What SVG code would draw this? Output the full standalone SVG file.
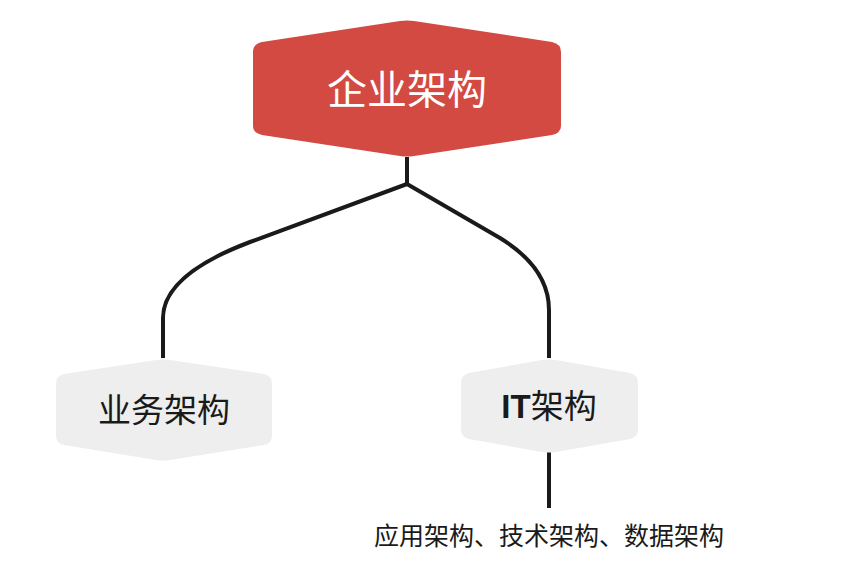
<svg xmlns="http://www.w3.org/2000/svg" width="848" height="588" viewBox="0 0 848 588">
<style>
.c{fill:none;stroke:#1a1a1a;stroke-width:4;stroke-linejoin:round}
text{font-family:"Noto Sans CJK SC","Noto Sans",sans-serif;text-anchor:middle}
.g{fill:#eeeeee}
</style>
<rect width="848" height="588" fill="#fff"/>
<g id="connectors">
<path class="c" d="M407,157 V184 L250,242 Q163,275 163,318 V358"/>
<path class="c" d="M407,184 L500,238 Q549,268 549,310 V358"/>
<path class="c" d="M549,452 V508"/>
</g>
<g id="root">
<path d="M262,42 L400,21 Q407,20 414,21 L552,42 Q561,44 561,52 V126 Q561,133 552,135 L414,156 Q407,157 400,156 L262,135 Q253,133 253,126 V52 Q253,44 262,42 Z" fill="#d24a41"/>
<text x="407" y="104" font-size="40" fill="#fff">企业架构</text>
</g>
<g id="business">
<path d="M64,374 L156,360 Q163,359 170,360 L264,374 Q272,376 272,384 V436 Q272,443 264,445 L170,460 Q163,461 156,460 L64,445 Q56,443 56,436 V384 Q56,376 64,374 Z" class="g"/>
<text x="164" y="422" font-size="33" fill="#1a1a1a">业务架构</text>
</g>
<g id="it">
<path d="M469,373 L542,360 Q549,359 556,360 L630,373 Q638,375 638,383 V430 Q638,437 630,439 L556,452 Q549,453 542,452 L469,439 Q461,437 461,430 V383 Q461,375 469,373 Z" class="g"/>
<text x="549" y="418" font-size="33" fill="#1a1a1a"><tspan font-family="Liberation Sans,sans-serif" font-weight="bold">IT</tspan>架构</text>
</g>
<g id="it-detail">
<text x="549" y="545" font-size="25" fill="#1a1a1a">应用架构、技术架构、数据架构</text>
</g>
</svg>
